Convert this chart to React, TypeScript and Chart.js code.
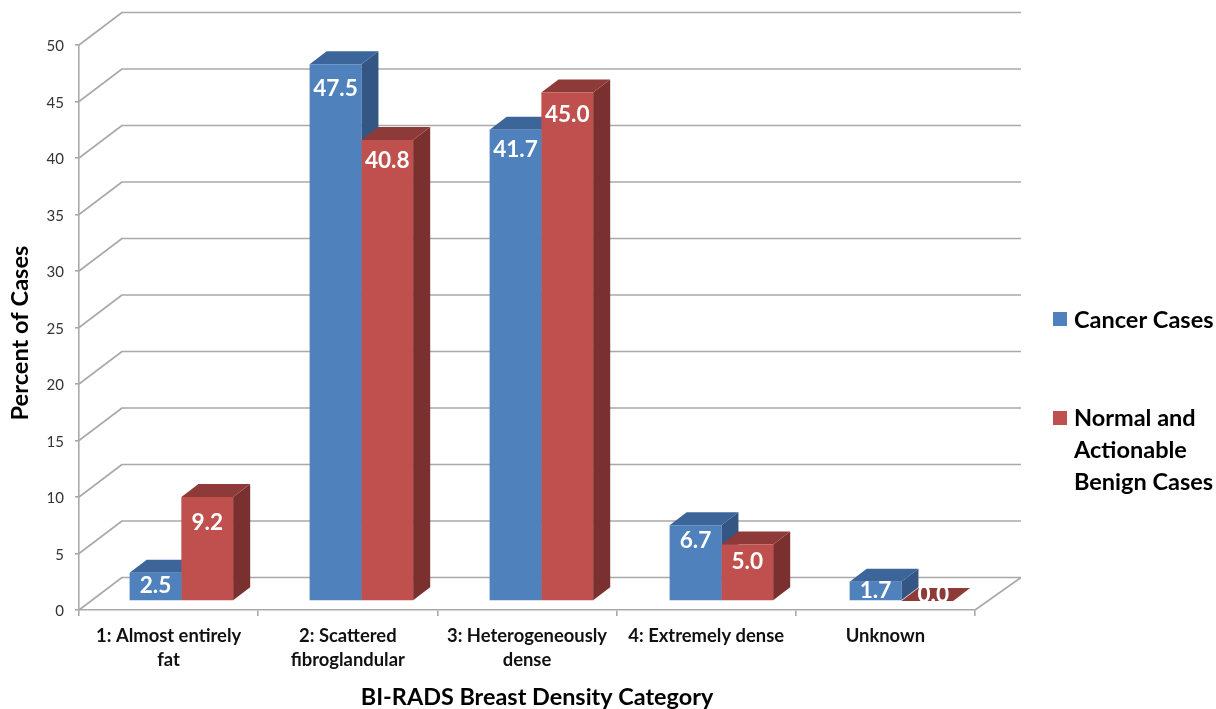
import React, { useEffect, useRef } from "react";
import { Chart, registerables } from "chart.js";

Chart.register(...registerables);

// Percent of cases per BI-RADS density category
const categories = [
  ["1: Almost entirely", "fat"],
  ["2: Scattered", "fibroglandular"],
  ["3: Heterogeneously", "dense"],
  ["4: Extremely dense"],
  ["Unknown"],
];
const cancerCases = [2.5, 47.5, 41.7, 6.7, 1.7];
const benignCases = [9.2, 40.8, 45.0, 5.0, 0.0];

const cancerLabel = ["Cancer Cases"];
const benignLabel = ["Normal and", "Actionable", "Benign Cases"];
const xTitle = "BI-RADS Breast Density Category";
const yTitle = "Percent of Cases";

const FONT = "Lato, Carlito, sans-serif";
const GRID = "#a9a9a9";
const palette = [
  { front: "#4f81bd", top: "#3c659a", side: "#335684" },
  { front: "#c0504d", top: "#8e3a38", side: "#7a302e" },
];

// Oblique projection: wall depth and bar depth, in canvas pixels
const wall = { dx: 43, dy: -32.5 };
const bar = { dx: 17, dy: -13 };
// Bars stand on a plane slightly in front of the wall, a bit wider than the axis
const barPlane = { scaleX: 1.0045, shiftX: 12, shiftY: -9 };
// How far each value label sits below its bar's top edge
const labelDrop = [
  [13, 24, 20, 15, 9],
  [26, 21, 22, 17, -6],
];

const oblique = {
  id: "oblique",
  beforeDatasetsDraw(chart: any) {
    const { ctx, scales } = chart;
    const y = scales.y;
    const { left, right, bottom } = chart.chartArea;

    // Wall gridlines, each running back from the value axis
    ctx.save();
    ctx.strokeStyle = GRID;
    ctx.lineWidth = 1.6;
    ctx.lineJoin = "round";
    y.ticks.forEach((t: any) => {
      const py = y.getPixelForValue(t.value);
      ctx.beginPath();
      ctx.moveTo(left, py);
      ctx.lineTo(left + wall.dx, py + wall.dy);
      ctx.lineTo(right + wall.dx + 3, py + wall.dy);
      ctx.stroke();
    });
    ctx.beginPath();
    ctx.moveTo(right, bottom);
    ctx.lineTo(right + wall.dx + 3, bottom + wall.dy);
    ctx.stroke();
    ctx.restore();

    // Bar plane stays active until afterDatasetsDraw
    ctx.save();
    ctx.transform(barPlane.scaleX, 0, 0, 1, barPlane.shiftX, barPlane.shiftY);

    [0, 1].forEach((di) => {
      const colors = palette[di];
      chart.getDatasetMeta(di).data.forEach((el: any) => {
        const { x, y: top, base, width } = el.getProps(["x", "y", "base", "width"], true);
        const l = x - width / 2;
        const r = x + width / 2;
        ctx.fillStyle = colors.side;
        ctx.beginPath();
        ctx.moveTo(r, top);
        ctx.lineTo(r + bar.dx, top + bar.dy);
        ctx.lineTo(r + bar.dx, base + bar.dy);
        ctx.lineTo(r, base);
        ctx.closePath();
        ctx.fill();
        ctx.fillStyle = colors.top;
        ctx.beginPath();
        ctx.moveTo(l, top);
        ctx.lineTo(l + bar.dx, top + bar.dy);
        ctx.lineTo(r + bar.dx, top + bar.dy);
        ctx.lineTo(r, top);
        ctx.closePath();
        ctx.fill();
      });
    });
  },
  afterDatasetsDraw(chart: any) {
    const { ctx } = chart;

    // Value labels inside the bars
    ctx.fillStyle = "#ffffff";
    ctx.font = `bold 22.5px ${FONT}`;
    ctx.textAlign = "center";
    ctx.textBaseline = "middle";
    [0, 1].forEach((di) => {
      const values = chart.data.datasets[di].data;
      chart.getDatasetMeta(di).data.forEach((el: any, i: number) => {
        const { x, y: top, base } = el.getProps(["x", "y", "base"], true);
        const flat = base - top < 1;
        ctx.fillText(values[i].toFixed(1), x + (flat ? 6 : 0), top + labelDrop[di][i]);
      });
    });
    ctx.restore();

    // Axis titles
    ctx.save();
    ctx.fillStyle = "#000000";
    ctx.font = `bold 23.4px ${FONT}`;
    ctx.textAlign = "center";
    ctx.textBaseline = "middle";
    ctx.fillText(xTitle, 537, 697);
    ctx.translate(20, 333);
    ctx.rotate(-Math.PI / 2);
    ctx.font = `bold 23.6px ${FONT}`;
    ctx.fillText(yTitle, 0, 0);
    ctx.restore();

    // Legend
    ctx.save();
    ctx.font = `bold 23.5px ${FONT}`;
    ctx.textAlign = "left";
    ctx.textBaseline = "middle";
    ctx.fillStyle = palette[0].front;
    ctx.fillRect(1053, 312, 14, 14);
    ctx.fillStyle = palette[1].front;
    ctx.fillRect(1053, 411, 14, 14);
    ctx.fillStyle = "#000000";
    cancerLabel.forEach((line, i) => ctx.fillText(line, 1074, 320 + i * 32));
    benignLabel.forEach((line, i) => ctx.fillText(line, 1074, 418 + i * 32));
    ctx.restore();
  },
};

export default function App() {
  const ref = useRef<HTMLCanvasElement>(null);

  useEffect(() => {
    const chart = new Chart(ref.current as HTMLCanvasElement, {
      type: "bar",
      data: {
        labels: categories,
        datasets: [
          { label: cancerLabel.join(" "), data: cancerCases, backgroundColor: palette[0].front, clip: false },
          { label: benignLabel.join(" "), data: benignCases, backgroundColor: palette[1].front, clip: false },
        ],
      } as any,
      options: {
        responsive: false,
        animation: false,
        layout: { padding: { top: 45, right: 241, left: 0, bottom: 0 } },
        plugins: { legend: { display: false }, tooltip: { enabled: false } },
        datasets: { bar: { categoryPercentage: 0.575, barPercentage: 1 } },
        scales: {
          x: {
            grid: { drawOnChartArea: false, color: GRID, lineWidth: 1.6, tickLength: 6 },
            border: { color: GRID, width: 1.6 },
            ticks: {
              color: "#111111",
              font: { family: FONT, size: 18.4, weight: "bold", lineHeight: 1.3 },
              maxRotation: 0,
              autoSkip: false,
              padding: 8,
            },
            afterFit(scale: any) {
              scale.height = 99;
            },
          },
          y: {
            min: 0,
            max: 50,
            grid: { drawOnChartArea: false, color: GRID, lineWidth: 1.6, tickLength: 4 },
            border: { color: GRID, width: 1.6 },
            ticks: {
              stepSize: 5,
              color: "#333333",
              font: { family: FONT, size: 15 },
              padding: 11,
              labelOffset: 1.5,
            },
            afterFit(scale: any) {
              scale.width = 79;
            },
          },
        },
      } as any,
      plugins: [oblique],
    });
    return () => chart.destroy();
  }, []);

  return (
    <canvas
      ref={ref}
      width={1216}
      height={709}
      style={{ position: "fixed", left: 0, top: 0, display: "block" }}
    />
  );
}
